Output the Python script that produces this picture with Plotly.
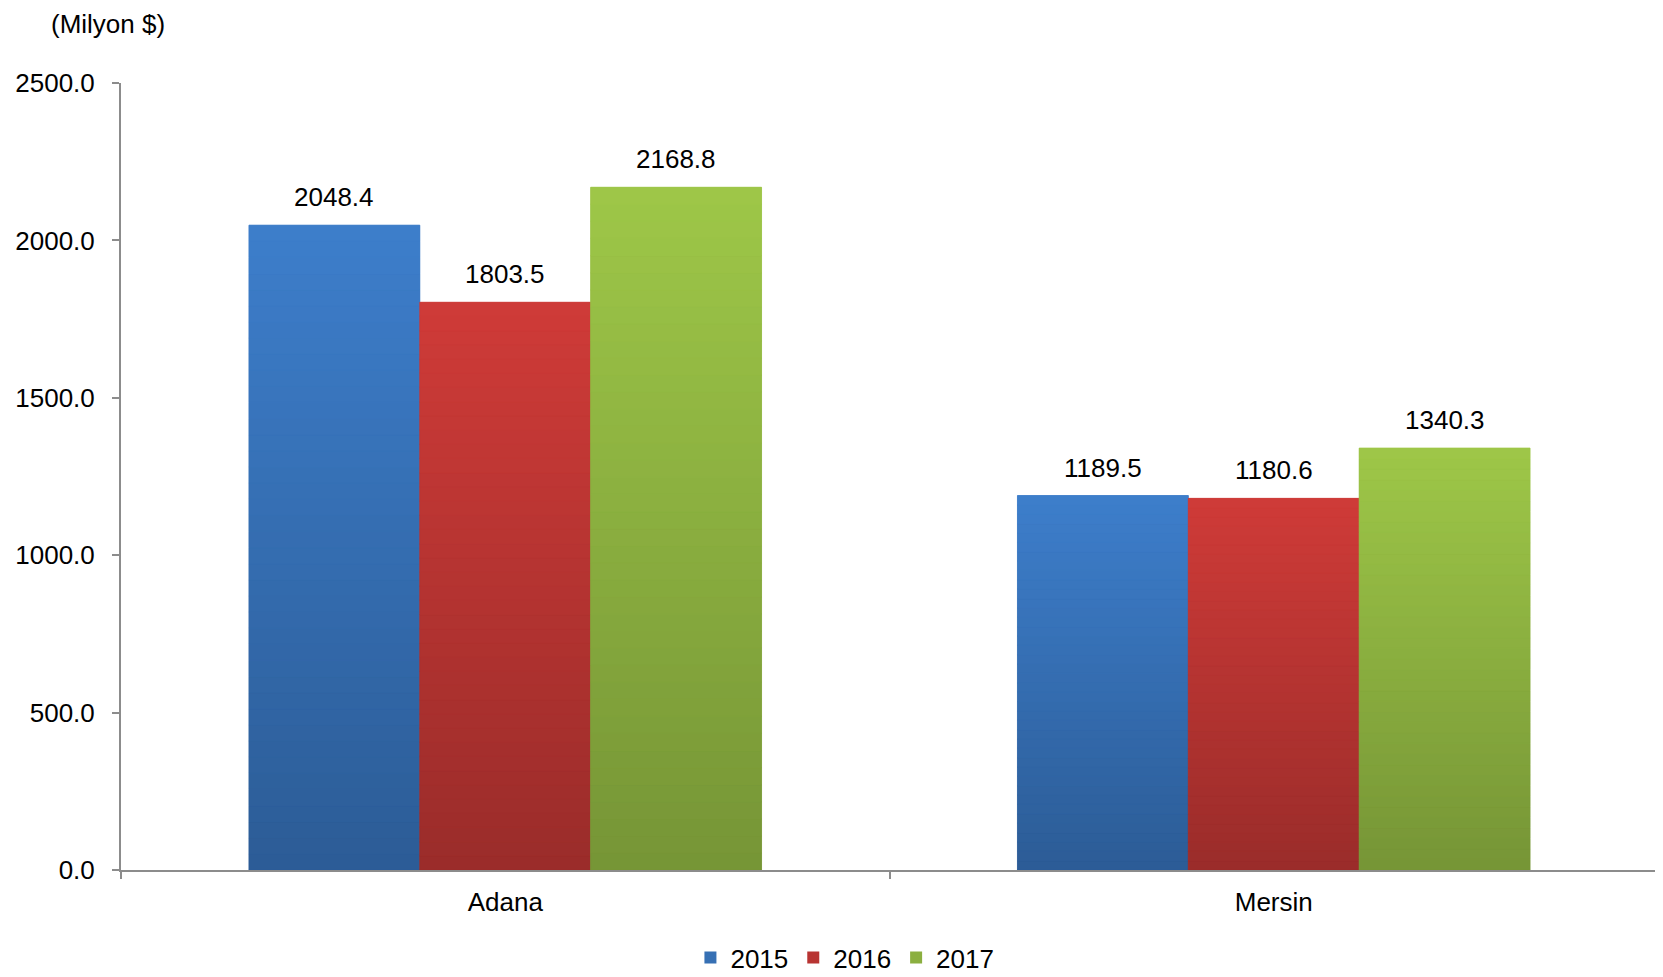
import plotly.graph_objects as go

categories = ["Adana", "Mersin"]
years = ["2015", "2016", "2017"]
values_2015 = [2048.4, 1189.5]
values_2016 = [1803.5, 1180.6]
values_2017 = [2168.8, 1340.3]
y_ticks = [0, 500, 1000, 1500, 2000, 2500]
y_tick_labels = ["0.0", "500.0", "1000.0", "1500.0", "2000.0", "2500.0"]

series = [values_2015, values_2016, values_2017]
# gradient colours: (top, bottom)
grad = [((0x3D, 0x7E, 0xCB), (0x2C, 0x5C, 0x96)),
        ((0xCF, 0x3B, 0x38), (0x9A, 0x2C, 0x2A)),
        ((0x9E, 0xC7, 0x48), (0x76, 0x95, 0x36))]
mid = ["#3670B4", "#B83432", "#8BAF40"]

FONT = "Liberation Sans, Arial, sans-serif"
FS = 26
N = 40
bargap = 0.333

fig = go.Figure()


def mix(c1, c2, t):
    return "rgb(%d,%d,%d)" % tuple(round(a + (b - a) * t) for a, b in zip(c1, c2))


for k, (yr, vals) in enumerate(zip(years, series)):
    # base bar (also legend entry)
    fig.add_trace(go.Bar(x=categories, y=vals, name=yr, offsetgroup=yr,
                         marker=dict(color=mid[k], line=dict(width=0)),
                         hoverinfo="skip"))
    top, bot = grad[k]
    for s in range(N):
        t = (s + 0.5) / N  # 0 at bottom, 1 at top
        col = mix(bot, top, t)
        fig.add_trace(go.Bar(x=categories, y=[v / N for v in vals],
                             base=[v * s / N for v in vals],
                             offsetgroup=yr, showlegend=False,
                             marker=dict(color=col, line=dict(width=0.8, color=col)),
                             hoverinfo="skip"))

bar_w = (1 - bargap) / len(years)
annotations = []
for k, vals in enumerate(series):
    for i, v in enumerate(vals):
        annotations.append(dict(x=i + (k - 1) * bar_w, y=v, xref="x", yref="y",
                                text=f"{v:.1f}", showarrow=False,
                                yanchor="middle", yshift=28,
                                font=dict(family=FONT, size=FS, color="#000")))
annotations.append(dict(x=-0.0465, y=1.0953, xref="paper", yref="paper", text="(Milyon $)",
                        showarrow=False, xanchor="left", yanchor="top", borderpad=0,
                        font=dict(family=FONT, size=FS, color="#000")))

fig.update_layout(
    width=1655, height=969,
    margin=dict(l=113, r=5, t=75, b=107, autoexpand=False),
    paper_bgcolor="white", plot_bgcolor="white",
    barmode="group", bargap=bargap, bargroupgap=0,
    font=dict(family=FONT, size=FS, color="#000"),
    showlegend=True,
    legend=dict(orientation="h", x=0.471, xanchor="center", yref="container",
                y=0.02, yanchor="middle",
                font=dict(family=FONT, size=FS, color="#000"), itemwidth=30,
                traceorder="normal"),
    annotations=annotations,
    xaxis=dict(type="category", showline=True, linecolor="#8C8C8C", linewidth=2,
               ticks="outside", tickson="boundaries", ticklen=7, tickcolor="#8C8C8C",
               tickwidth=2, showgrid=False, zeroline=False, automargin=False,
               ticklabelstandoff=8,
               tickfont=dict(family=FONT, size=FS, color="#000")),
    yaxis=dict(range=[0, 2500], tickvals=y_ticks, ticktext=y_tick_labels,
               showline=True, linecolor="#8C8C8C", linewidth=2, ticks="outside",
               ticklen=7, tickcolor="#8C8C8C", tickwidth=2, showgrid=False,
               zeroline=False, automargin=False, ticklabelstandoff=12,
               tickfont=dict(family=FONT, size=FS, color="#000")),
)

fig.write_html("out.html")
